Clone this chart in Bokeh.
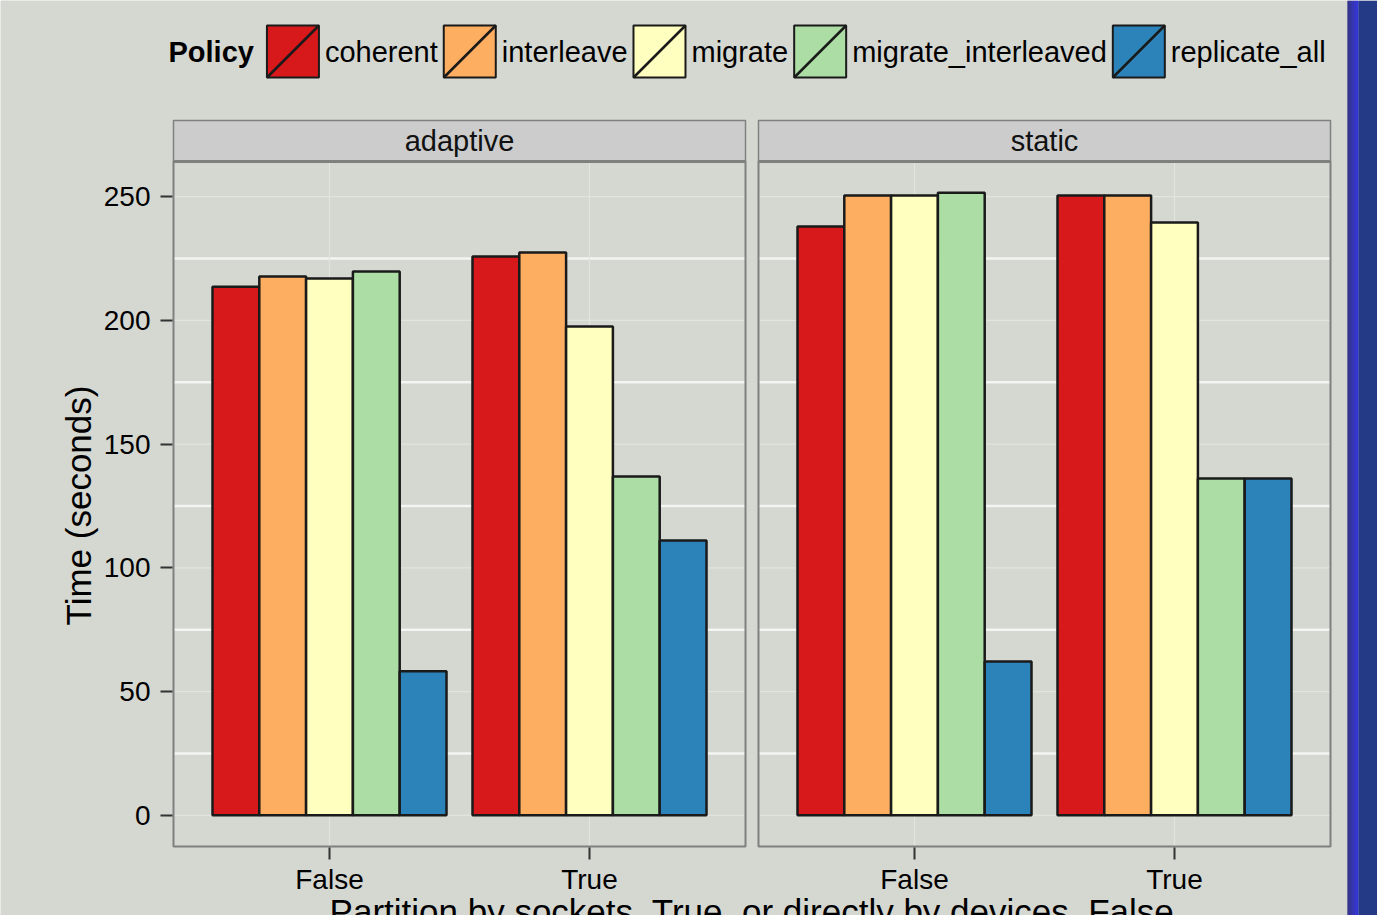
import numpy as np
from bokeh.plotting import figure
from bokeh.models import Range1d, FixedTicker, Label, ColumnDataSource
from bokeh.embed import file_html
from bokeh.resources import INLINE
from bokeh.core.properties import value

# ---------------- data ----------------
facets = ["adaptive", "static"]
partitions = ["False", "True"]
policies = ["coherent", "interleave", "migrate", "migrate_interleaved", "replicate_all"]
policy_colors = ["#D7191C", "#FDAE61", "#FFFFBF", "#ABDDA4", "#2B83BA"]

adaptive_false = [213.6, 217.7, 216.9, 219.7, 58.2]
adaptive_true = [225.8, 227.4, 197.5, 136.9, 111.1]
static_false = [237.9, 250.4, 250.4, 251.6, 62.2]
static_true = [250.4, 250.4, 239.5, 136.1, 136.1]

y_ticks = [0, 50, 100, 150, 200, 250]
y_title = "Time (seconds)"
x_title = "Partition by sockets, True, or directly by devices, False"
legend_title = "Policy"

values = {
    ("adaptive", "False"): adaptive_false,
    ("adaptive", "True"): adaptive_true,
    ("static", "False"): static_false,
    ("static", "True"): static_true,
}

# ---------------- style / layout ----------------
BG = "#d5d7d1"
FONT = "Liberation Sans"
OUTLINE = "#1a1a1a"
BORDER = "#808080"
STRIP_FILL = "#cccccc"

PAGE_W, PAGE_H = 1377, 915
# panel geometry in page pixels
P_LEFT, P_BOTTOM, P_TOP, P_WIDTH = 173, 846, 161, 572
STRIP_TOP_PX = 120
BLUE_LEFT, BLUE_MID = 1347, 1358

expand = 0.6
panel_units = (len(partitions) - 1) + 2 * expand
facet_shift = 2.25
x_lo = 1 - expand
x_hi = x_lo + facet_shift * (len(facets) - 1) + panel_units
ppu_x = P_WIDTH / panel_units

all_vals = [v for vals in values.values() for v in vals]
ymax = max(all_vals)
y_lo = -0.05 * ymax
y_hi = 1.05 * ymax
ppu_y = (P_BOTTOM - P_TOP) / (y_hi - y_lo)


def X(px):
    return x_lo + (px - P_LEFT) / ppu_x


def Y(py):
    return y_lo + (P_BOTTOM - py) / ppu_y


p = figure(width=PAGE_W, height=PAGE_H, output_backend="svg", toolbar_location=None,
           x_range=Range1d(X(0), X(PAGE_W)), y_range=Range1d(Y(PAGE_H), Y(0)),
           min_border=0)
p.background_fill_color = BG
p.border_fill_color = BG
p.outline_line_color = None
p.xgrid.visible = False
p.ygrid.visible = False

# panel extents
panel_left = [x_lo + f * facet_shift for f in range(len(facets))]
panel_right = [l + panel_units for l in panel_left]
strip_top = Y(STRIP_TOP_PX)

# grid lines
maj_x0, maj_x1, maj_y = [], [], []
min_x0, min_x1, min_y = [], [], []
vx, vy0, vy1 = [], [], []
for f in range(len(facets)):
    for t in y_ticks:
        maj_x0.append(panel_left[f]); maj_x1.append(panel_right[f]); maj_y.append(t)
    for a, b in zip(y_ticks[:-1], y_ticks[1:]):
        m = (a + b) / 2
        min_x0.append(panel_left[f]); min_x1.append(panel_right[f]); min_y.append(m)
    for j in range(len(partitions)):
        vx.append(f * facet_shift + j + 1); vy0.append(y_lo); vy1.append(y_hi)
p.segment(x0=min_x0, y0=min_y, x1=min_x1, y1=min_y, line_color="#f4f4f2", line_width=2.5)
p.segment(x0=maj_x0, y0=maj_y, x1=maj_x1, y1=maj_y, line_color="#e2e4de", line_width=1.2)
p.segment(x0=vx, y0=vy0, x1=vx, y1=vy1, line_color="#e2e4de", line_width=1.2)

# bars
dodge = 0.9
bw = dodge / len(policies)
bx, btop, bcol = [], [], []
for f, fac in enumerate(facets):
    for j, part in enumerate(partitions):
        vals = values[(fac, part)]
        for i, v in enumerate(vals):
            bx.append(f * facet_shift + j + 1 + (i - (len(policies) - 1) / 2) * bw)
            btop.append(v)
            bcol.append(policy_colors[i])
src = ColumnDataSource(dict(x=bx, top=btop, color=bcol))
p.vbar(x="x", top="top", bottom=0, width=bw, fill_color="color", line_color=OUTLINE,
       line_width=2.5, source=src)

# panel borders and strips
p.quad(left=panel_left, right=panel_right, top=[y_hi] * 2, bottom=[y_lo] * 2,
       fill_color=None, line_color=BORDER, line_width=2)
p.quad(left=panel_left, right=panel_right, top=[strip_top] * 2, bottom=[y_hi] * 2,
       fill_color=STRIP_FILL, line_color=BORDER, line_width=1.5)
p.segment(x0=panel_left, y0=[y_hi] * 2, x1=panel_right, y1=[y_hi] * 2,
          line_color=BORDER, line_width=3)
p.text(x=[(l + r) / 2 for l, r in zip(panel_left, panel_right)], y=[(y_hi + strip_top) / 2] * 2,
       text=facets, text_align="center", text_baseline="middle",
       text_font=value(FONT), text_font_size=value("29px"), text_color="#111111")

# axes (fixed inside the full-canvas frame)
p.yaxis.ticker = FixedTicker(ticks=y_ticks)
xt = [f * facet_shift + j + 1 for f in range(len(facets)) for j in range(len(partitions))]
p.xaxis.ticker = FixedTicker(ticks=xt)
p.xaxis.major_label_overrides = {t: partitions[k % len(partitions)] for k, t in enumerate(xt)}
p.yaxis.fixed_location = X(P_LEFT - 1)
p.xaxis.fixed_location = Y(P_BOTTOM + 1)
for ax in (p.xaxis, p.yaxis):
    ax.axis_line_color = None
    ax.minor_tick_out = 0
    ax.minor_tick_in = 0
    ax.major_tick_out = 12
    ax.major_tick_in = 0
    ax.major_tick_line_color = "#333333"
    ax.major_tick_line_width = 2
    ax.major_label_text_font = FONT
    ax.major_label_text_font_size = "28px"
    ax.major_label_text_color = "#000000"
p.yaxis.major_label_standoff = 10
p.xaxis.major_label_standoff = 4

p.add_layout(Label(x=X(78), y=Y(505), text=y_title, angle=np.pi / 2,
                   text_align="center", text_baseline="middle", text_font=FONT,
                   text_font_size="35px", text_color="#000000"))
p.add_layout(Label(x=(x_lo + x_hi) / 2, y=Y(891), text=x_title,
                   text_align="center", text_baseline="top", text_font=FONT,
                   text_font_size="35px", text_color="#000000"))

# ---------------- legend ----------------
AW = {'a': 556, 'b': 556, 'c': 500, 'd': 556, 'e': 556, 'f': 278, 'g': 556, 'h': 556, 'i': 222,
      'j': 222, 'k': 500, 'l': 222, 'm': 833, 'n': 556, 'o': 556, 'p': 556, 'q': 556, 'r': 333,
      's': 500, 't': 278, 'u': 556, 'v': 500, 'w': 722, 'x': 500, 'y': 500, 'z': 500, '_': 556}
AWB = {'P': 667, 'o': 611, 'l': 278, 'i': 278, 'c': 556, 'y': 556}


def tw(s, size, bold=False):
    tab = AWB if bold else AW
    return sum(tab.get(ch, 556) for ch in s) * size / 1000.0


LFS = 29
key = 52
key_top = 25
lx = 168
p.text(x=[X(lx)], y=[Y(key_top + key / 2)], text=[legend_title], text_align="left",
       text_baseline="middle", text_font=value(FONT), text_font_size=value(f"{LFS}px"),
       text_font_style="bold", text_color="#000000")
cur = lx + tw(legend_title, LFS, True) + 13
kl, kr, tx = [], [], []
for name in policies:
    kl.append(cur); kr.append(cur + key)
    tx.append(cur + key + 6)
    cur = cur + key + 6 + tw(name, LFS) + 6
n = len(policies)
p.quad(left=[X(v) for v in kl], right=[X(v) for v in kr], top=[Y(key_top)] * n,
       bottom=[Y(key_top + key)] * n, fill_color=policy_colors, line_color=OUTLINE, line_width=2)
p.segment(x0=[X(v) for v in kl], y0=[Y(key_top + key)] * n, x1=[X(v) for v in kr],
          y1=[Y(key_top)] * n, line_color=OUTLINE, line_width=2.5)
p.text(x=[X(v) for v in tx], y=[Y(key_top + key / 2)] * n, text=policies, text_align="left",
       text_baseline="middle", text_font=value(FONT), text_font_size=value(f"{LFS}px"),
       text_color="#000000")

# ---------------- right edge strip (window edge in the screenshot) ----------------
ng = BLUE_MID - BLUE_LEFT
gl = [X(BLUE_LEFT + k) for k in range(ng)]
gr = [X(BLUE_LEFT + k + 1) for k in range(ng)]
gcols = ["#%02x%02x%02x" % (0, 0, int(112 + (224 - 112) * k / (ng - 1))) for k in range(ng)]
p.quad(left=gl, right=gr, top=[Y(0)] * ng, bottom=[Y(PAGE_H)] * ng,
       fill_color=gcols, line_color=None)
p.quad(left=[X(BLUE_MID)], right=[X(PAGE_W)], top=[Y(0)], bottom=[Y(PAGE_H)],
       fill_color="#243a86", line_color=None)

open("out.html", "w").write(file_html(p, INLINE))
